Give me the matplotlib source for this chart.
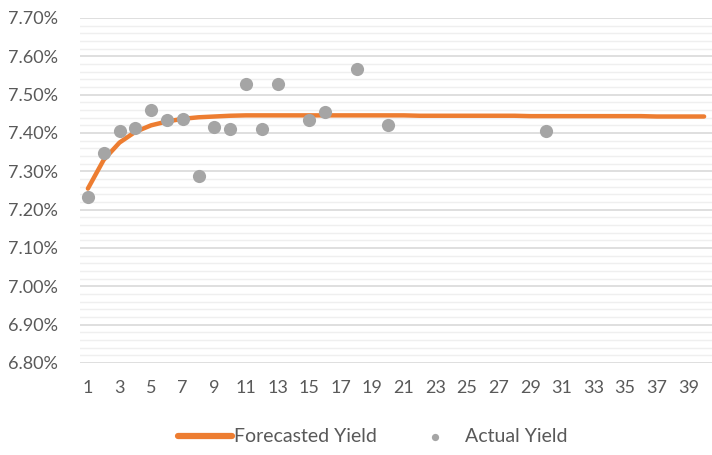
import matplotlib
matplotlib.use('Agg')
import matplotlib.pyplot as plt
from matplotlib.ticker import MultipleLocator, FuncFormatter

# Datos
periodos = list(range(1, 41))
rendimiento_pronostico = [7.255, 7.330, 7.375, 7.403, 7.420, 7.430, 7.437, 7.441, 7.443, 7.445,
                          7.446, 7.446, 7.446, 7.446, 7.446, 7.446, 7.446, 7.446, 7.446, 7.446,
                          7.446, 7.445, 7.445, 7.445, 7.445, 7.445, 7.445, 7.445, 7.444, 7.444,
                          7.444, 7.444, 7.444, 7.444, 7.444, 7.444, 7.443, 7.443, 7.443, 7.443]
periodos_reales = [1, 2, 3, 4, 5, 6, 7, 8, 9, 10, 11, 12, 13, 15, 16, 18, 20, 30]
rendimiento_real = [7.233, 7.348, 7.405, 7.412, 7.459, 7.434, 7.437, 7.287, 7.415, 7.410,
                    7.527, 7.411, 7.527, 7.434, 7.455, 7.566, 7.420, 7.405]
etiquetas_x = list(range(1, 40, 2))

naranja = '#ED7D31'
gris = '#A5A5A5'
texto = '#595959'

plt.rcParams['font.family'] = ['Lato', 'DejaVu Sans']

fig = plt.figure(figsize=(7.12, 4.55), dpi=100)
ax = fig.add_axes([80 / 712, 1 - 363 / 455, 632 / 712, 345 / 455])

ax.plot(periodos, rendimiento_pronostico, color=naranja, linewidth=3.2,
        solid_capstyle='round', label='Forecasted Yield', zorder=3)
ax.scatter(periodos_reales, rendimiento_real, s=90, color=gris,
           label='Actual Yield', zorder=4, linewidths=0)

ax.set_xlim(0.5, 40.5)
ax.set_ylim(6.80, 7.70)
ax.yaxis.set_major_locator(MultipleLocator(0.1))
ax.yaxis.set_minor_locator(MultipleLocator(0.02))
ax.yaxis.set_major_formatter(FuncFormatter(lambda v, p: f'{v:.2f}%'))
ax.set_xticks(etiquetas_x)
ax.set_xticklabels([str(e) for e in etiquetas_x])

ax.grid(True, which='major', axis='y', color='#D9D9D9', linewidth=1.2, zorder=0)
ax.grid(True, which='minor', axis='y', color='#EFEFEF', linewidth=1.0, zorder=0)
for s in ax.spines.values():
    s.set_visible(False)
ax.tick_params(axis='both', which='both', length=0, colors=texto, labelsize=13)
ax.tick_params(axis='y', pad=16)
ax.tick_params(axis='x', pad=12)

leg = fig.legend(loc='center', bbox_to_anchor=(0.523, 18 / 455), ncol=2,
                 frameon=False, fontsize=14, labelcolor=texto, handlelength=2.8,
                 handletextpad=0.1, columnspacing=1.6, markerscale=0.55)
leg.get_lines()[0].set_linewidth(4.5)

fig.savefig('out.png', dpi=100)
